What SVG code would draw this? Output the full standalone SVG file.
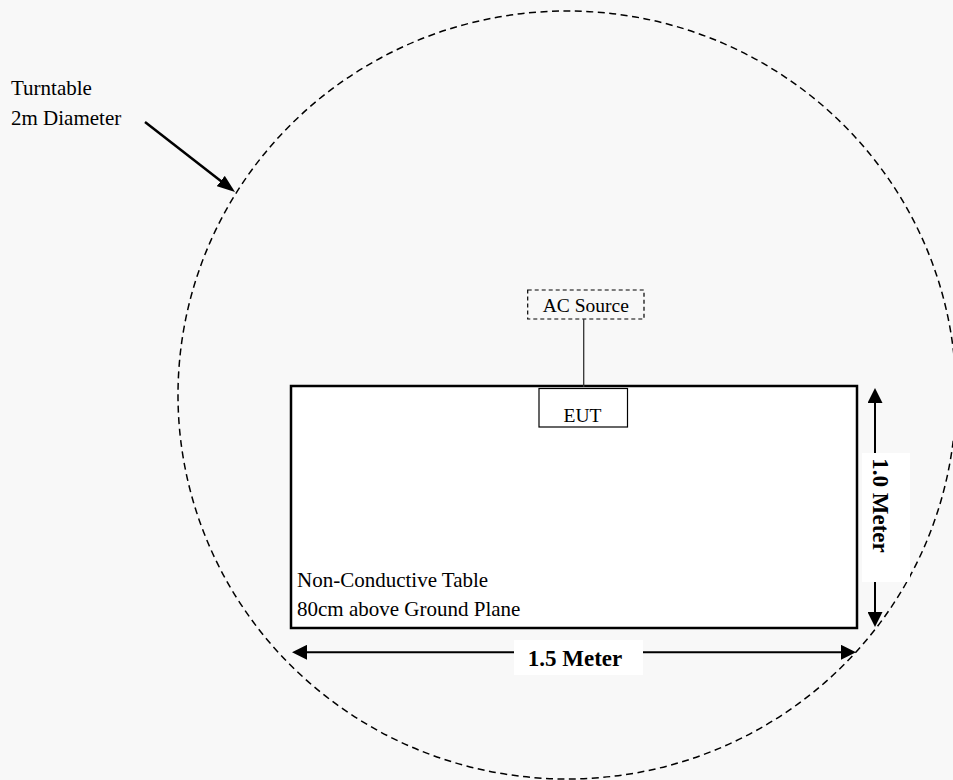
<svg xmlns="http://www.w3.org/2000/svg" width="953" height="780" viewBox="0 0 953 780">
<style>
.t{font-family:"Liberation Serif","Times New Roman",serif;fill:#000}
.b{font-weight:bold}
.dim{stroke:#000;stroke-width:2;fill:none}
</style>
<defs>
<marker id="arr" markerUnits="userSpaceOnUse" markerWidth="15" markerHeight="15" refX="7" refY="7.5" orient="auto-start-reverse" viewBox="0 0 15 15">
<path d="M0,0 L15,7.5 L0,15 z" fill="#000"/>
</marker>
<marker id="ptr" markerUnits="userSpaceOnUse" markerWidth="18" markerHeight="13" refX="9" refY="6.5" orient="auto" viewBox="0 0 18 13">
<path d="M0,0 L18,6.5 L0,13 z" fill="#000"/>
</marker>
</defs>
<rect x="0" y="0" width="953" height="780" fill="#f8f8f8"/>
<g id="turntable">
<ellipse cx="567" cy="395" rx="389" ry="384" fill="none" stroke="#000" stroke-width="1.5" stroke-dasharray="7 4.5"/>
<text class="t" x="11" y="95" font-size="21">Turntable</text>
<text class="t" x="11" y="125" font-size="21">2m Diameter</text>
</g>
<g id="table">
<rect x="291" y="386" width="566" height="242" fill="#fff" stroke="#000" stroke-width="2.5"/>
<text class="t" x="297" y="586.7" font-size="21">Non-Conductive Table</text>
<text class="t" x="297" y="615.7" font-size="21">80cm above Ground Plane</text>
</g>
<g id="ac-source">
<rect x="527.7" y="290" width="116.3" height="29" fill="none" stroke="#000" stroke-width="1.2" stroke-dasharray="4 3"/>
<text class="t" x="585.8" y="312.3" font-size="19.5" text-anchor="middle">AC Source</text>
</g>
<g id="eut">
<rect x="539" y="388.5" width="88.5" height="38.5" fill="#fff" stroke="#000" stroke-width="1.2"/>
<text class="t" x="582.5" y="421.5" font-size="19.5" text-anchor="middle">EUT</text>
</g>
<g id="connectors">
<line x1="583.7" y1="319" x2="583.7" y2="387" stroke="#333" stroke-width="1.3"/>
<line x1="145" y1="122" x2="227.9" y2="186.5" stroke="#000" stroke-width="2.5" marker-end="url(#ptr)"/>
<line class="dim" x1="300" y1="652.3" x2="848" y2="652.3" marker-start="url(#arr)" marker-end="url(#arr)"/>
<line class="dim" x1="875" y1="396" x2="875" y2="619" marker-start="url(#arr)" marker-end="url(#arr)"/>
</g>
<g id="dim-labels">
<rect x="514" y="640" width="129" height="35" fill="#fff"/>
<text class="t b" x="575" y="666" font-size="23" text-anchor="middle">1.5 Meter</text>
<rect x="862" y="453" width="48" height="129" fill="#fff"/>
<text class="t b" transform="translate(873,505.5) rotate(90)" font-size="23" text-anchor="middle">1.0 Meter</text>
</g>
</svg>
